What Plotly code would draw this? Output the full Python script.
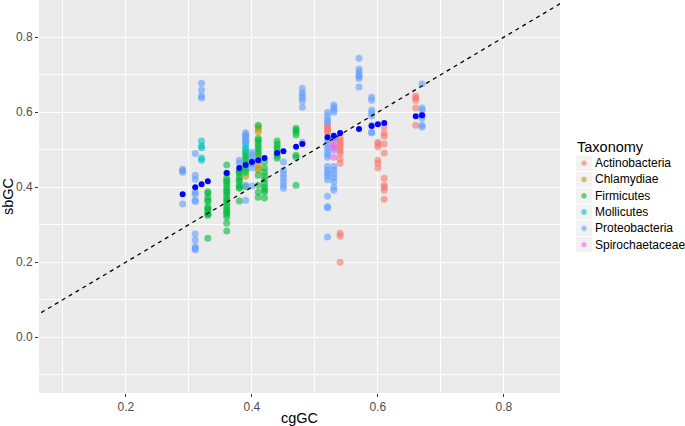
import plotly.graph_objects as go

# ---- data ----
actino_gc = [0.52, 0.54, 0.60, 0.61, 0.66]
actino_sb = [
    [0.565, 0.56, 0.555, 0.55, 0.544],
    [0.531, 0.525, 0.518, 0.512, 0.505, 0.497, 0.49, 0.475, 0.464, 0.277, 0.27, 0.2],
    [0.52, 0.515, 0.507, 0.472, 0.464, 0.451],
    [0.56, 0.544, 0.536, 0.515, 0.491, 0.424, 0.405, 0.4, 0.392, 0.368],
    [0.643, 0.638, 0.632, 0.611, 0.565],
]

chlam_gc = [0.39, 0.41]
chlam_sb = [
    [0.429],
    [0.56, 0.555, 0.547, 0.48, 0.47, 0.46, 0.45, 0.445],
]

firmi_gc = [0.33, 0.36, 0.38, 0.39, 0.41, 0.42, 0.44, 0.47]
firmi_sb = [
    [0.388, 0.384, 0.373, 0.365, 0.362, 0.347, 0.343, 0.339, 0.331, 0.328, 0.325, 0.264],
    [0.459, 0.437, 0.424, 0.417, 0.413, 0.405, 0.397, 0.39, 0.387, 0.379, 0.371, 0.365,
     0.36, 0.352, 0.344, 0.338, 0.333, 0.328, 0.32, 0.304, 0.283],
    [0.445, 0.44, 0.437, 0.427, 0.42, 0.415, 0.405, 0.4, 0.397, 0.363],
    [0.493, 0.485, 0.478, 0.47, 0.462, 0.455, 0.448, 0.44, 0.401],
    [0.565, 0.53, 0.525, 0.518, 0.51, 0.503, 0.495, 0.488, 0.432, 0.405, 0.387, 0.373],
    [0.467, 0.451, 0.44, 0.43, 0.42, 0.41, 0.4, 0.393, 0.387, 0.371],
    [0.523, 0.515, 0.507, 0.5, 0.49, 0.483, 0.477],
    [0.557, 0.552, 0.546, 0.539, 0.485, 0.48, 0.405],
]

molli_gc = [0.32, 0.39]
molli_sb = [
    [0.523, 0.51, 0.505, 0.478, 0.472],
    [0.515, 0.505, 0.5],
]

proteo_gc = [0.29, 0.31, 0.32, 0.38, 0.39, 0.40, 0.45, 0.48, 0.52, 0.53, 0.57, 0.59, 0.67]
proteo_sb = [
    [0.448, 0.444, 0.44, 0.355],
    [0.49, 0.432, 0.421, 0.387, 0.381, 0.365, 0.362, 0.275, 0.259, 0.242, 0.236, 0.233],
    [0.677, 0.659, 0.643, 0.638],
    [0.472, 0.464],
    [0.545, 0.54, 0.535, 0.53, 0.525, 0.52, 0.405, 0.365],
    [0.493, 0.486, 0.478, 0.47, 0.462, 0.452, 0.403],
    [0.467, 0.445, 0.435, 0.425, 0.415, 0.405, 0.397],
    [0.664, 0.652, 0.645, 0.638, 0.63, 0.613, 0.52],
    [0.6, 0.59, 0.58, 0.573, 0.525, 0.515, 0.505, 0.495, 0.487, 0.48, 0.455, 0.445,
     0.437, 0.43, 0.42, 0.376, 0.348, 0.345, 0.267],
    [0.619, 0.613, 0.607, 0.6, 0.532, 0.527, 0.499, 0.455, 0.445, 0.435, 0.425, 0.415, 0.4, 0.392],
    [0.744, 0.715, 0.708, 0.7, 0.695, 0.69, 0.667],
    [0.64, 0.632, 0.605, 0.597, 0.59, 0.565, 0.547, 0.544],
    [0.675, 0.611, 0.605, 0.592, 0.584, 0.565, 0.56],
]

spiro_gc = [0.53]
spiro_sb = [
    [0.517, 0.51, 0.505, 0.48],
]

mean_gc = [0.29, 0.31, 0.32, 0.33, 0.36, 0.38, 0.39, 0.40, 0.41, 0.42, 0.44, 0.45,
           0.47, 0.48, 0.52, 0.53, 0.54, 0.57, 0.59, 0.60, 0.61, 0.66, 0.67]
mean_sb = [0.381, 0.40, 0.408, 0.416, 0.438, 0.451, 0.459, 0.467, 0.472, 0.478, 0.491, 0.496,
           0.508, 0.515, 0.533, 0.537, 0.544, 0.555, 0.563, 0.568, 0.571, 0.589, 0.592]

identity_line = [0.0, 1.0]

taxa = ["Actinobacteria", "Chlamydiae", "Firmicutes", "Mollicutes",
        "Proteobacteria", "Spirochaetaceae"]
taxa_gc = [actino_gc, chlam_gc, firmi_gc, molli_gc, proteo_gc, spiro_gc]
taxa_sb = [actino_sb, chlam_sb, firmi_sb, molli_sb, proteo_sb, spiro_sb]
colors = ["#F8766D", "#B79F00", "#00BA38", "#00BFC4", "#619CFF", "#F564E3"]

x_ticks = [0.2, 0.4, 0.6, 0.8]
y_ticks = [0.0, 0.2, 0.4, 0.6, 0.8]

FONT = "Liberation Sans, Arial, Helvetica, sans-serif"
W, H = 685, 426
ML, MR, MT, MB = 39, 125, 0, 33
PW, PH = W - ML - MR, H - MT - MB


def px2paper_x(px):
    return (px - ML) / PW


def px2paper_y(py):
    return 1 - (py - MT) / PH


fig = go.Figure()
for name, gcs, sbs, col in zip(taxa, taxa_gc, taxa_sb, colors):
    xs, ys = [], []
    for g, vals in zip(gcs, sbs):
        xs += [g] * len(vals)
        ys += vals
    fig.add_trace(go.Scatter(
        x=xs, y=ys, mode="markers", name=name, showlegend=False,
        marker=dict(color=col, size=7, opacity=0.6, line=dict(width=0)),
    ))

fig.add_trace(go.Scatter(
    x=identity_line, y=identity_line, mode="lines", showlegend=False,
    line=dict(color="black", width=1.3, dash="4px,4px"),
))

fig.add_trace(go.Scatter(
    x=mean_gc, y=mean_sb, mode="markers", showlegend=False,
    marker=dict(color="#0000FF", size=6, line=dict(width=0)),
))

# ---- ggplot-like legend (keys + labels) ----
shapes, annotations = [], []
annotations.append(dict(
    text="Taxonomy", xref="paper", yref="paper",
    x=px2paper_x(575), y=px2paper_y(147), xanchor="left", yanchor="middle",
    showarrow=False, font=dict(family=FONT, size=14.5, color="black"),
))
key_top = 155
key_h = 16.3
for i, (name, col) in enumerate(zip(taxa, colors)):
    y0 = key_top + i * key_h
    yc = y0 + key_h / 2
    shapes.append(dict(
        type="rect", xref="paper", yref="paper",
        x0=px2paper_x(576), x1=px2paper_x(592),
        y0=px2paper_y(y0 + 0.5), y1=px2paper_y(y0 + key_h - 0.5),
        fillcolor="#F2F2F2", line=dict(width=0), layer="above",
    ))
    shapes.append(dict(
        type="circle", xref="paper", yref="paper",
        x0=px2paper_x(584 - 2.7), x1=px2paper_x(584 + 2.7),
        y0=px2paper_y(yc - 2.7), y1=px2paper_y(yc + 2.7),
        fillcolor=col, opacity=0.6, line=dict(width=0), layer="above",
    ))
    annotations.append(dict(
        text=name, xref="paper", yref="paper",
        x=px2paper_x(593), y=px2paper_y(yc), xanchor="left", yanchor="middle",
        showarrow=False, font=dict(family=FONT, size=12, color="black"),
    ))

axis_common = dict(
    showgrid=True, gridcolor="white", gridwidth=1.2,
    zeroline=False, showline=False, automargin=False,
    ticks="outside", ticklen=3, tickwidth=1, tickcolor="#333333",
    tickfont=dict(family=FONT, size=12, color="#4D4D4D"),
)

fig.update_layout(
    width=W, height=H,
    margin=dict(l=ML, r=MR, t=MT, b=MB, autoexpand=False),
    paper_bgcolor="white", plot_bgcolor="#EBEBEB",
    font=dict(family=FONT),
    showlegend=False,
    xaxis=dict(
        range=[0.062, 0.889],
        tickvals=x_ticks, ticktext=[f"{v:.1f}" for v in x_ticks],
        minor=dict(tickvals=[0.1, 0.3, 0.5, 0.7], showgrid=True,
                   gridcolor="white", gridwidth=0.6, ticks=""),
        title=dict(text="cgGC", font=dict(family=FONT, size=14.5, color="black"), standoff=3),
        **axis_common,
    ),
    yaxis=dict(
        range=[-0.149, 0.899],
        tickvals=y_ticks, ticktext=[f"{v:.1f}" for v in y_ticks],
        minor=dict(tickvals=[-0.1, 0.1, 0.3, 0.5, 0.7], showgrid=True,
                   gridcolor="white", gridwidth=0.6, ticks=""),
        title=dict(text="sbGC", font=dict(family=FONT, size=14.5, color="black"), standoff=0),
        **axis_common,
    ),
    shapes=shapes,
    annotations=annotations,
)

fig.write_html("out.html", config={"displayModeBar": False},
               post_script="document.body.style.margin='0px';")
